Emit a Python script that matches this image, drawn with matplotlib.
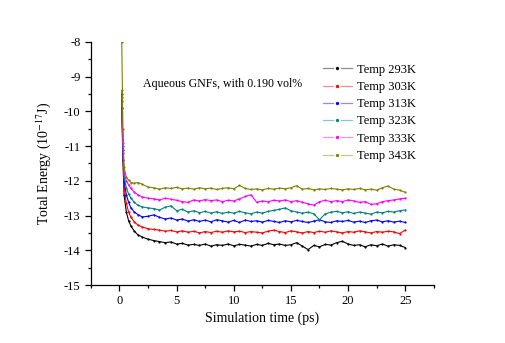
import matplotlib.pyplot as plt
from matplotlib.lines import Line2D
from matplotlib.legend_handler import HandlerBase
from matplotlib.ticker import MultipleLocator

plt.rcParams['font.family'] = ['Liberation Serif', 'DejaVu Serif']
plt.rcParams['mathtext.fontset'] = 'stix'
plt.rcParams['axes.unicode_minus'] = False

# simulation time (ps)
time_ps = [0.2, 0.3, 0.4, 0.6, 0.8, 1.0, 1.3, 1.6, 2.0, 2.5,
           3.0, 3.5, 4.0, 4.5, 5.0, 5.5, 6.0, 6.5, 7.0, 7.5,
           8.0, 8.5, 9.0, 9.5, 10.0, 10.5, 11.0, 11.5, 12.0, 12.5,
           13.0, 13.5, 14.0, 14.5, 15.0, 15.5, 16.0, 16.5, 17.0, 17.5,
           18.0, 18.5, 19.0, 19.5, 20.0, 20.5, 21.0, 21.5, 22.0, 22.5,
           23.0, 23.5, 24.0, 24.5, 25.0]

# total energy (1e-17 J) per temperature
e_293 = [-9.9, -11.4, -12.4, -12.9, -13.15, -13.3, -13.45, -13.55, -13.62, -13.68,
         -13.72, -13.75, -13.78, -13.76, -13.82, -13.8, -13.85, -13.83, -13.86, -13.82,
         -13.88, -13.84, -13.86, -13.82, -13.87, -13.83, -13.85, -13.88, -13.83, -13.86,
         -13.8, -13.84, -13.82, -13.86, -13.84, -13.78, -13.88, -13.98, -13.86, -13.9,
         -13.83, -13.85, -13.78, -13.74, -13.82, -13.86, -13.84, -13.9, -13.84, -13.87,
         -13.82, -13.88, -13.84, -13.86, -13.92]
e_303 = [-9.7, -11.2, -12.2, -12.65, -12.9, -13.05, -13.18, -13.27, -13.33, -13.38,
         -13.4, -13.42, -13.45, -13.43, -13.47, -13.44, -13.48, -13.45, -13.5, -13.46,
         -13.49, -13.45, -13.48, -13.44, -13.47, -13.45, -13.49, -13.46, -13.48, -13.5,
         -13.45, -13.42, -13.46, -13.49, -13.44, -13.47, -13.5, -13.46, -13.49, -13.45,
         -13.48, -13.44, -13.47, -13.5, -13.46, -13.48, -13.44, -13.47, -13.5, -13.46,
         -13.48, -13.45, -13.47, -13.52, -13.42]
e_313 = [-9.5, -11.1, -12.0, -12.4, -12.62, -12.78, -12.9, -12.97, -13.04, -13.02,
         -12.98, -13.05, -13.1, -13.07, -13.13, -13.1, -13.16, -13.12, -13.17, -13.13,
         -13.18, -13.12, -13.15, -13.19, -13.14, -13.2, -13.13, -13.17, -13.15, -13.19,
         -13.14, -13.17, -13.2, -13.15, -13.18, -13.14, -13.17, -13.2, -13.16, -13.12,
         -13.18, -13.2, -13.15, -13.17, -13.14, -13.19, -13.16, -13.2, -13.15, -13.13,
         -13.18, -13.15, -13.19, -13.16, -13.2]
e_323 = [-9.6, -11.0, -11.9, -12.2, -12.38, -12.5, -12.62, -12.7, -12.75, -12.78,
         -12.8, -12.84, -12.76, -12.72, -12.86, -12.82, -12.9, -12.86, -12.92, -12.88,
         -12.93, -12.89, -12.94, -12.9, -12.93, -12.88, -12.92, -12.95, -12.9, -12.93,
         -12.88, -12.85, -12.82, -12.78, -12.86, -12.9, -12.93, -12.9, -12.95, -13.12,
         -12.95, -12.9, -12.88, -12.92, -12.89, -12.94, -12.9, -12.93, -12.96, -12.9,
         -12.92, -12.88, -12.9, -12.86, -12.84]
e_333 = [-9.4, -10.9, -11.8, -12.0, -12.12, -12.22, -12.33, -12.4, -12.47, -12.5,
         -12.52, -12.55, -12.5, -12.53, -12.56, -12.6, -12.62, -12.55, -12.58, -12.54,
         -12.57, -12.55, -12.6, -12.56, -12.58, -12.52, -12.45, -12.4, -12.62, -12.58,
         -12.6, -12.56, -12.58, -12.55, -12.6, -12.57, -12.62, -12.66, -12.7, -12.6,
         -12.56, -12.6, -12.57, -12.6, -12.55, -12.58, -12.62, -12.6, -12.68, -12.66,
         -12.6, -12.57, -12.55, -12.52, -12.5]
e_343 = [-8.0, -10.5, -11.6, -11.9, -11.98, -12.05, -12.07, -12.05, -12.1, -12.18,
         -12.2, -12.24, -12.2, -12.22, -12.19, -12.23, -12.21, -12.24, -12.2, -12.23,
         -12.21, -12.25, -12.22, -12.2, -12.23, -12.13, -12.22, -12.25, -12.23, -12.26,
         -12.22, -12.24, -12.21, -12.23, -12.2, -12.14, -12.24, -12.22, -12.26, -12.23,
         -12.25, -12.22, -12.24, -12.26, -12.23, -12.25, -12.22, -12.26, -12.24, -12.27,
         -12.2, -12.15, -12.24, -12.27, -12.33]

series = [e_293, e_303, e_313, e_323, e_333, e_343]
labels = ['Temp 293K', 'Temp 303K', 'Temp 313K', 'Temp 323K', 'Temp 333K', 'Temp 343K']
colors = ['#000000', '#ff0000', '#0000ff', '#008080', '#ff00ff', '#808000']


class GapKey(HandlerBase):
    """Legend key drawn as: line - gap - dot - gap - line."""

    def create_artists(self, legend, orig_handle, xdescent, ydescent,
                       width, height, fontsize, trans):
        c = orig_handle.get_color()
        x0 = -xdescent
        y = height / 2 - ydescent
        left = Line2D([x0, x0 + 0.36 * width], [y, y], color=c, lw=0.9,
                      alpha=0.45, transform=trans)
        right = Line2D([x0 + 0.64 * width, x0 + width], [y, y], color=c,
                       lw=0.9, alpha=0.45, transform=trans)
        dot = Line2D([x0 + width / 2], [y], color=c, ls='none', marker='o',
                     ms=2.4, mew=0, transform=trans)
        return [left, right, dot]


fig = plt.figure(figsize=(5.05, 3.43), dpi=100)
ax = fig.add_axes([0.180, 0.169, 0.679, 0.709])

handles = []
for y, c in zip(series, colors):
    line, = ax.plot(time_ps, y, color=c, lw=0.8, marker='o', ms=1.6, mew=0)
    handles.append(line)

ax.set_xlim(-2.5, 27.5)
ax.set_ylim(-15, -8)
ax.xaxis.set_major_locator(MultipleLocator(5))
ax.xaxis.set_minor_locator(MultipleLocator(2.5))
ax.yaxis.set_major_locator(MultipleLocator(1))
ax.yaxis.set_minor_locator(MultipleLocator(0.5))
ax.tick_params(which='major', direction='out', length=4, width=0.9, labelsize=9)
ax.tick_params(which='minor', direction='out', length=2.5, width=0.9)
ax.spines['top'].set_visible(False)
ax.spines['right'].set_visible(False)
ax.spines['left'].set_linewidth(0.9)
ax.spines['bottom'].set_linewidth(0.9)

ax.set_xlabel('Simulation time (ps)', fontsize=10, labelpad=3)
ax.set_ylabel('Total Energy (10$^{-17}$J)', fontsize=10, labelpad=8)

ax.text(0.152, 0.828, 'Aqueous GNFs, with 0.190 vol%', transform=ax.transAxes,
        fontsize=8.6, va='center', ha='left')

ax.legend(handles, labels, handler_map={Line2D: GapKey()},
          loc='upper left', bbox_to_anchor=(0.676, 0.91), frameon=False,
          fontsize=9, handlelength=2.32, handletextpad=0.45, labelspacing=0.42,
          borderaxespad=0, borderpad=0)

fig.savefig('out.png', dpi=100)
